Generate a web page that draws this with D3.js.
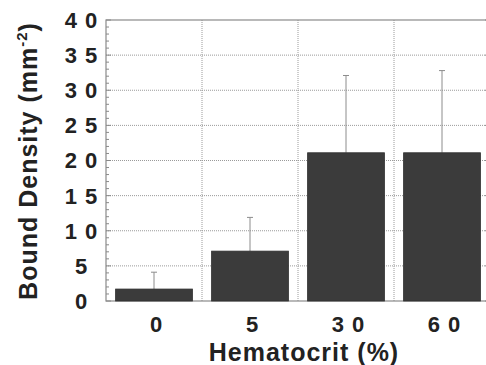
<!DOCTYPE html>
<html>
<head>
<meta charset="utf-8">
<script src="https://cdn.jsdelivr.net/npm/d3@7"></script>
<style>
  body { margin: 0; background: #fff; }
  svg { display: block; }
  text { font-family: "Liberation Sans", Arial, Helvetica, sans-serif; font-weight: bold; fill: #222; }
</style>
</head>
<body>
<script>
// data
var hematocrit = ["0", "5", "30", "60"];
var density = [1.7, 7.1, 21.1, 21.1];
var errUpper = [4.1, 11.9, 32.1, 32.8];
var yTicks = [0, 5, 10, 15, 20, 25, 30, 35, 40];

var W = 486, H = 365;
var margin = { top: 20, right: -4, bottom: 64, left: 106 },
    width = W - margin.left - margin.right,
    height = H - margin.top - margin.bottom;

var svg = d3.select("body").append("svg")
    .attr("width", W)
    .attr("height", H);

var g = svg.append("g")
    .attr("transform", "translate(" + margin.left + "," + margin.top + ")");

var x = d3.scaleBand()
    .domain(hematocrit)
    .range([0, width])
    .paddingInner(0.2)
    .paddingOuter(0.1);

var y = d3.scaleLinear().domain([0, 40]).range([height, 0]);

// dotted grid
g.selectAll(".hgrid")
    .data(yTicks.filter(function (d) { return d > 0 && d < 40; }))
    .enter().append("line")
    .attr("x1", 0).attr("x2", width)
    .attr("y1", function (d) { return y(d); })
    .attr("y2", function (d) { return y(d); })
    .attr("stroke", "#9a9a9a")
    .attr("stroke-width", 1)
    .attr("stroke-dasharray", "1,1");

g.selectAll(".vgrid")
    .data(hematocrit.slice(1))
    .enter().append("line")
    .attr("x1", function (d) { return x(d) - x.step() * x.paddingInner() / 2; })
    .attr("x2", function (d) { return x(d) - x.step() * x.paddingInner() / 2; })
    .attr("y1", 0).attr("y2", height)
    .attr("stroke", "#9a9a9a")
    .attr("stroke-width", 1)
    .attr("stroke-dasharray", "1,1");

// frame
g.append("rect")
    .attr("x", 0).attr("y", 0)
    .attr("width", width).attr("height", height)
    .attr("fill", "none")
    .attr("stroke", "#8a8a8a")
    .attr("stroke-width", 1.2);

// minor ticks, inward, both sides
var minor = d3.range(0, 41);
g.selectAll(".tl")
    .data(minor)
    .enter().append("line")
    .attr("x1", 0)
    .attr("x2", function (d) { return d % 5 == 0 ? 5 : 3; })
    .attr("y1", function (d) { return y(d); })
    .attr("y2", function (d) { return y(d); })
    .attr("stroke", "#8a8a8a");
g.selectAll(".tr")
    .data(minor)
    .enter().append("line")
    .attr("x1", width)
    .attr("x2", function (d) { return width - (d % 5 == 0 ? 5 : 3); })
    .attr("y1", function (d) { return y(d); })
    .attr("y2", function (d) { return y(d); })
    .attr("stroke", "#8a8a8a");

// error bars (upper only)
var capW = 3;
g.selectAll(".err")
    .data(hematocrit)
    .enter().append("line")
    .attr("x1", function (d) { return x(d) + x.bandwidth() / 2; })
    .attr("x2", function (d) { return x(d) + x.bandwidth() / 2; })
    .attr("y1", function (d, i) { return y(density[i]); })
    .attr("y2", function (d, i) { return y(errUpper[i]); })
    .attr("stroke", "#8c8c8c")
    .attr("stroke-width", 1);
g.selectAll(".cap")
    .data(hematocrit)
    .enter().append("line")
    .attr("x1", function (d) { return x(d) + x.bandwidth() / 2 - capW; })
    .attr("x2", function (d) { return x(d) + x.bandwidth() / 2 + capW; })
    .attr("y1", function (d, i) { return y(errUpper[i]); })
    .attr("y2", function (d, i) { return y(errUpper[i]); })
    .attr("stroke", "#8c8c8c")
    .attr("stroke-width", 1);

// bars
g.selectAll(".bar")
    .data(hematocrit)
    .enter().append("rect")
    .attr("class", "bar")
    .attr("x", function (d) { return x(d); })
    .attr("width", x.bandwidth())
    .attr("y", function (d, i) { return y(density[i]); })
    .attr("height", function (d, i) { return height - y(density[i]); })
    .attr("fill", "#3b3b3b")
    .attr("stroke", "#2e2e2e")
    .attr("stroke-width", 0.8);

// y tick labels
g.selectAll(".ylab")
    .data(yTicks)
    .enter().append("text")
    .attr("x", -21)
    .attr("y", function (d) { return y(d); })
    .attr("dy", "0.36em")
    .attr("text-anchor", "middle")
    .style("font-size", "22px")
    .style("letter-spacing", "8px")
    .text(function (d) { return d; });

// x tick labels
g.selectAll(".xlab")
    .data(hematocrit)
    .enter().append("text")
    .attr("x", function (d) { return x(d) + x.bandwidth() / 2 + 6; })
    .attr("y", height + 30.5)
    .attr("text-anchor", "middle")
    .style("font-size", "22px")
    .style("letter-spacing", "8px")
    .text(function (d) { return d; });

// axis titles
svg.append("text")
    .attr("x", 304)
    .attr("y", 361)
    .attr("text-anchor", "middle")
    .style("font-size", "25px")
    .style("letter-spacing", "1px")
    .text("Hematocrit (%)");

var yt = svg.append("text")
    .attr("transform", "translate(37," + 161 + ") rotate(-90)")
    .attr("text-anchor", "middle")
    .style("font-size", "25px")
    .style("letter-spacing", "1px");
yt.append("tspan").text("Bound Density (mm");
yt.append("tspan").attr("dy", -10).style("font-size", "15px").text("-2");
yt.append("tspan").attr("dy", 10).text(")");
</script>
</body>
</html>
